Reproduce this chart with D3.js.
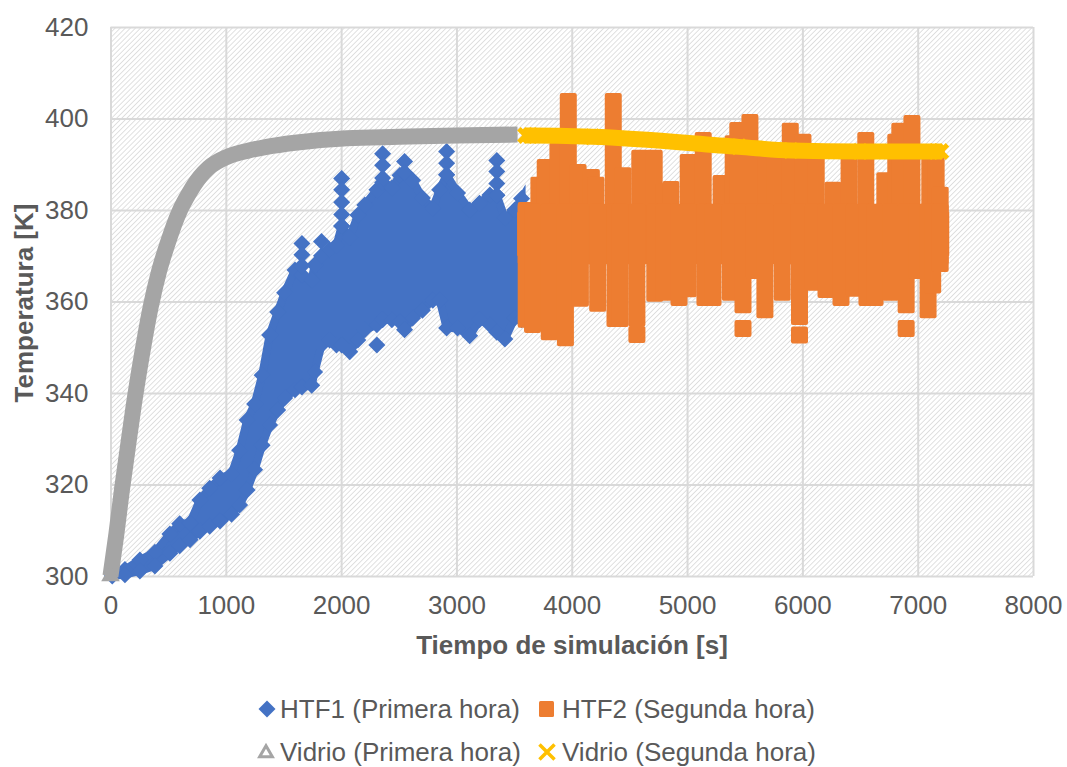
<!DOCTYPE html>
<html>
<head>
<meta charset="utf-8">
<script src="https://cdn.jsdelivr.net/npm/d3@7"></script>
<style>
  body { margin: 0; background: #fff; }
  text { font-family: "Liberation Sans", Arial, sans-serif; fill: #595959; }
</style>
</head>
<body>
<div id="chart"></div>
<script>
const xTicks = [0, 1000, 2000, 3000, 4000, 5000, 6000, 7000, 8000];
const yTicks = [300, 320, 340, 360, 380, 400, 420];

// HTF1: por columna, tiempo y temperaturas max / min
const htf1Tiempo = [15, 125, 255, 385, 515, 600, 690, 775, 860, 950, 1050, 1120, 1185, 1250, 1315, 1380, 1450, 1510, 1600, 1660, 1745, 1770, 1830, 1900, 1960, 2005, 2075, 2145, 2205, 2310, 2360, 2440, 2510, 2550, 2620, 2705, 2795, 2855, 2915, 3010, 3115, 3200, 3290, 3350, 3420, 3505, 3565];
const htf1Max = [300.6, 301.4, 303.5, 305.2, 309.2, 311.4, 311.6, 316.6, 319.2, 321.4, 322.3, 327.5, 334.1, 337.6, 343.9, 352.7, 357.7, 361.9, 366.9, 365.8, 364.7, 368, 370, 371.3, 372.3, 376.5, 374, 378.9, 381.1, 384.4, 386, 384.8, 387.6, 388.2, 386.5, 382.6, 380.4, 384.4, 387.7, 383.7, 380, 381.5, 383.3, 383.2, 378.2, 380, 382.5];
const htf1Min = [300, 300.3, 301.1, 302.2, 305, 306.6, 307.9, 309.8, 310.9, 312, 313.5, 315.5, 318.8, 323.2, 328.6, 333, 336.3, 338.9, 340.7, 341.3, 341.7, 344.6, 350.5, 351.6, 350.5, 350.5, 349, 351.6, 353.8, 354.9, 356, 356, 355.5, 353.8, 356.4, 358.1, 360.3, 360.3, 354.2, 354.2, 352.5, 356, 354.9, 353.3, 351.8, 356.4, 356];
// picos sueltos de HTF1
const htf1PicoT = [1660, 1660, 1660, 1830, 2005, 2005, 2005, 2005, 2005, 2310, 2360, 2360, 2360, 2550, 2550, 2915, 2915, 2915, 3350, 3350, 3350, 3350];
const htf1PicoV = [372.7, 370.2, 367.8, 373.1, 386.9, 384.4, 381.7, 379, 376.5, 350.5, 392.3, 389.8, 387, 390.6, 388.2, 392.8, 390.2, 387.7, 390.8, 388.4, 385.8, 383.2];

// HTF2: contorno superior, contorno inferior y puntos aislados
const htf2SupT = [3605, 3715, 3770, 3880, 3970, 4055, 4170, 4210, 4360, 4445, 4590, 4715, 4800, 4860, 5010, 5140, 5295, 5400, 5440, 5545, 5685, 5760, 5895, 6005, 6120, 6265, 6405, 6550, 6715, 6810, 6845, 6950, 7105, 7160, 7195];
const htf2Sup = [379.9, 385.4, 389.3, 392.9, 403.7, 388.2, 387.1, 385.4, 403.7, 387.5, 391.3, 391.3, 384, 384.5, 390.4, 395.2, 385.8, 394.5, 397.4, 399.1, 392, 392, 397.2, 394.8, 392, 384.3, 392, 395.2, 386.4, 394.8, 397.2, 398.9, 392, 392, 383.2];
const htf2InfT = [3605, 3660, 3805, 3945, 4075, 4225, 4375, 4420, 4565, 4720, 4800, 4930, 5010, 5155, 5225, 5375, 5485, 5580, 5675, 5825, 5975, 6095, 6205, 6335, 6450, 6560, 6630, 6765, 6900, 6990, 7090, 7130, 7195];
const htf2Inf = [356.1, 355, 353.4, 352.1, 360.7, 359.6, 356.3, 356.3, 356.4, 361.8, 362, 360.9, 362.8, 360.9, 360.9, 362, 359.3, 366.8, 358.2, 362, 356.7, 364.2, 362.6, 360.9, 362.9, 360.9, 360.9, 362, 359.3, 366.8, 358.2, 363.6, 368.3];
const htf2SueltoT = [4565, 5485, 5975, 6900];
const htf2SueltoV = [352.8, 354.1, 352.7, 354.1];
// franja siempre llena de HTF2
const htf2Banda = [370, 379.5];

// Vidrio
const vidrio1T = [0, 50, 100, 147, 200, 270, 350, 420, 490, 600, 680, 775, 850, 1010, 1200, 1355, 1600, 2050, 2500, 3000, 3530];
const vidrio1V = [300, 309, 319, 327.5, 337, 348, 359, 366.5, 372.3, 379.8, 383.6, 387.2, 389.2, 391.6, 393, 393.8, 394.7, 395.7, 396, 396.3, 396.5];
const vidrio2T = [3600, 3640, 4180, 5450, 5900, 6500, 7160, 7200];
const vidrio2V = [396.3, 396.3, 396, 393.8, 393, 392.8, 392.8, 392.8];

const azul = "#4472c4", naranja = "#ed7d31", gris = "#a5a5a5", amarillo = "#ffc000";
const tam = 17;

const margin = { top: 27, right: 34, bottom: 191, left: 110.5 };
const width = 1067 - margin.left - margin.right;
const height = 767 - margin.top - margin.bottom;

const root = d3.select("#chart").append("svg")
  .attr("width", 1067)
  .attr("height", 767);

// trama de fondo
const pat = root.append("defs").append("pattern")
  .attr("id", "trama")
  .attr("patternUnits", "userSpaceOnUse")
  .attr("width", 3.6)
  .attr("height", 3.6)
  .attr("patternTransform", "rotate(45)");
pat.append("line")
  .attr("x1", 0).attr("x2", 0)
  .attr("y1", 0).attr("y2", 3.6)
  .attr("stroke", "#d9d9d9")
  .attr("stroke-width", 1.6);

const svg = root.append("g")
  .attr("transform", `translate(${margin.left},${margin.top})`);

const x = d3.scaleLinear().domain([0, 8000]).range([0, width]);
const y = d3.scaleLinear().domain([300, 420]).range([height, 0]);

svg.append("rect")
  .attr("width", width)
  .attr("height", height)
  .attr("fill", "url(#trama)");

// Grid
const gridX = svg.append("g")
  .attr("transform", `translate(0,${height})`)
  .call(d3.axisBottom(x).tickValues(xTicks).tickSize(-height).tickFormat(""));
const gridY = svg.append("g")
  .call(d3.axisLeft(y).tickValues(yTicks).tickSize(-width).tickFormat(""));
[gridX, gridY].forEach(g => {
  g.select(".domain").remove();
  g.selectAll("line").attr("stroke", "#d9d9d9").attr("stroke-width", 2);
});

// Axes
const axisX = svg.append("g")
  .attr("transform", `translate(0,${height})`)
  .call(d3.axisBottom(x).tickValues(xTicks).tickSize(0).tickPadding(20).tickFormat(d3.format("d")));
const axisY = svg.append("g")
  .call(d3.axisLeft(y).tickValues(yTicks).tickSize(0).tickPadding(22).tickFormat(d3.format("d")));
[axisX, axisY].forEach(g => {
  g.select(".domain").remove();
  g.attr("font-family", null);
  g.selectAll("text").style("font-size", "26px").attr("fill", null);
});

// HTF1
const rombo = d3.symbol().type(d3.symbolSquare).size(tam * tam / 2);
const marcaRombo = (sel, px, py) => sel.append("path")
  .attr("d", rombo())
  .attr("fill", azul)
  .attr("transform", `translate(${px},${py}) rotate(45)`);

const g1 = svg.append("g");
g1.append("path")
  .datum(htf1Tiempo.map((t, i) => [t, htf1Min[i], htf1Max[i]]))
  .attr("d", d3.area().x(d => x(d[0])).y0(d => y(d[1])).y1(d => y(d[2])))
  .attr("fill", azul)
  .attr("stroke", azul)
  .attr("stroke-width", 8);
htf1Tiempo.forEach((t, i) => {
  marcaRombo(g1, x(t), y(htf1Max[i]));
  marcaRombo(g1, x(t), y(htf1Min[i]));
});
htf1PicoT.forEach((t, i) => marcaRombo(g1, x(t), y(htf1PicoV[i])));

// HTF2
const g2 = svg.append("g");
const columna = (t, a, b) => g2.append("rect")
  .attr("x", x(t) - tam / 2)
  .attr("width", tam)
  .attr("y", y(a) - tam / 2)
  .attr("height", y(b) - y(a) + tam)
  .attr("rx", 2)
  .attr("fill", naranja);
g2.append("rect")
  .attr("x", x(3600) - tam / 2)
  .attr("width", x(7200) - x(3600) + tam)
  .attr("y", y(htf2Banda[1]))
  .attr("height", y(htf2Banda[0]) - y(htf2Banda[1]))
  .attr("fill", naranja);
htf2SupT.forEach((t, i) => columna(t, htf2Sup[i], htf2Banda[0]));
htf2InfT.forEach((t, i) => columna(t, htf2Banda[1], htf2Inf[i]));
htf2SueltoT.forEach((t, i) => columna(t, htf2SueltoV[i], htf2SueltoV[i]));

// Vidrio
const linea = d3.line().x(d => x(d[0])).y(d => y(d[1])).curve(d3.curveMonotoneX);
svg.append("path")
  .datum(vidrio1T.map((t, i) => [t, vidrio1V[i]]))
  .attr("d", linea)
  .attr("fill", "none")
  .attr("stroke", gris)
  .attr("stroke-width", 16);
svg.append("path")
  .attr("d", d3.symbol().type(d3.symbolTriangle).size(150)())
  .attr("transform", `translate(${x(0)},${y(300)})`)
  .attr("fill", gris);

svg.append("path")
  .datum(vidrio2T.map((t, i) => [t, vidrio2V[i]]))
  .attr("d", linea)
  .attr("fill", "none")
  .attr("stroke", amarillo)
  .attr("stroke-width", 16);

const cruz = d3.symbol().type(d3.symbolX).size(120);
vidrio2T.forEach((t, i) => {
  svg.append("path")
    .attr("d", cruz())
    .attr("transform", `translate(${x(t)},${y(vidrio2V[i])})`)
    .attr("fill", "none")
    .attr("stroke", amarillo)
    .attr("stroke-width", 5);
});

// Axis titles
root.append("text")
  .attr("x", 572)
  .attr("y", 654)
  .attr("text-anchor", "middle")
  .style("font-size", "26px")
  .style("font-weight", "bold")
  .text("Tiempo de simulación [s]");

root.append("text")
  .attr("transform", "translate(33,303) rotate(-90)")
  .attr("text-anchor", "middle")
  .style("font-size", "26px")
  .style("font-weight", "bold")
  .text("Temperatura [K]");

// Legend
const legendNames = ["HTF1 (Primera hora)", "HTF2 (Segunda hora)", "Vidrio (Primera hora)", "Vidrio (Segunda hora)"];
const legendX = [280, 562, 280, 562];
const legendY = [709, 709, 752, 752];
const legend = root.append("g");
legendNames.forEach((name, i) => {
  legend.append("text")
    .attr("x", legendX[i])
    .attr("y", legendY[i])
    .attr("dy", "0.35em")
    .style("font-size", "26px")
    .text(name);
});
legend.append("path")
  .attr("d", rombo())
  .attr("fill", azul)
  .attr("transform", `translate(267,709) rotate(45)`);
legend.append("rect")
  .attr("x", 539).attr("y", 701)
  .attr("width", 15).attr("height", 16)
  .attr("rx", 1.5)
  .attr("fill", naranja);
legend.append("path")
  .attr("d", d3.symbol().type(d3.symbolTriangle).size(70)())
  .attr("transform", "translate(266,753)")
  .attr("fill", "#fff")
  .attr("stroke", gris)
  .attr("stroke-width", 3);
legend.append("path")
  .attr("d", d3.symbol().type(d3.symbolX).size(150)())
  .attr("transform", "translate(547,752)")
  .attr("fill", "none")
  .attr("stroke", amarillo)
  .attr("stroke-width", 3.5);
</script>
</body>
</html>
